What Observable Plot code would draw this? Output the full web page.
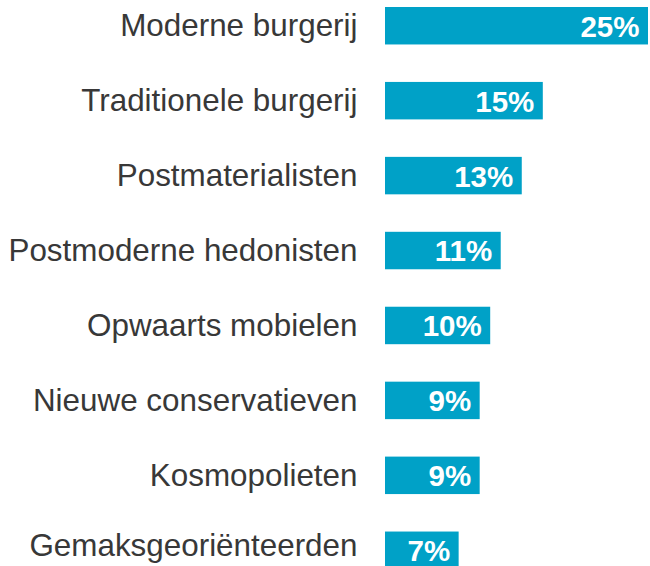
<!DOCTYPE html>
<html>
<head>
<meta charset="utf-8">
<script src="https://cdn.jsdelivr.net/npm/d3@7"></script>
<script src="https://cdn.jsdelivr.net/npm/@observablehq/plot@0.6"></script>
<style>
  html, body { margin: 0; padding: 0; background: #ffffff; overflow: hidden; }
  #chart svg { display: block; }
</style>
</head>
<body>
<div id="chart"></div>
<script>
const categories = [
  "Moderne burgerij",
  "Traditionele burgerij",
  "Postmaterialisten",
  "Postmoderne hedonisten",
  "Opwaarts mobielen",
  "Nieuwe conservatieven",
  "Kosmopolieten",
  "Gemaksgeoriënteerden"
];
const values = [25, 15, 13, 11, 10, 9, 9, 7];
const valueLabels = ["25%", "15%", "13%", "11%", "10%", "9%", "9%", "7%"];

const data = categories.map((c, i) => ({ category: c, value: values[i], label: valueLabels[i] }));
const lastCat = categories[categories.length - 1];
const axisStyle = { tickSize: 0, tickPadding: 28, fontSize: 31.4, color: "#383838", label: null };

const chart = Plot.plot({
  width: 650,
  height: 569,
  marginTop: 7,
  marginBottom: 0,
  marginLeft: 385,
  marginRight: 2,
  style: { fontFamily: "'Liberation Sans', Arial, sans-serif", background: "#ffffff" },
  x: { domain: [0, 25], axis: null },
  y: { domain: categories, paddingInner: 0.5, paddingOuter: 0, round: false, label: null },
  marks: [
    Plot.barX(data, { x: "value", y: "category", fill: "#00A1C7" }),
    Plot.axisY(categories.slice(0, -1), axisStyle),
    Plot.axisY([lastCat], { ...axisStyle, dy: -5 }),
    Plot.text(data, {
      x: "value", y: "category", text: "label",
      textAnchor: "end", dx: -9, dy: 1,
      fill: "#ffffff", fontSize: 29.5, fontWeight: "bold"
    })
  ]
});
document.getElementById("chart").appendChild(chart);
</script>
</body>
</html>
